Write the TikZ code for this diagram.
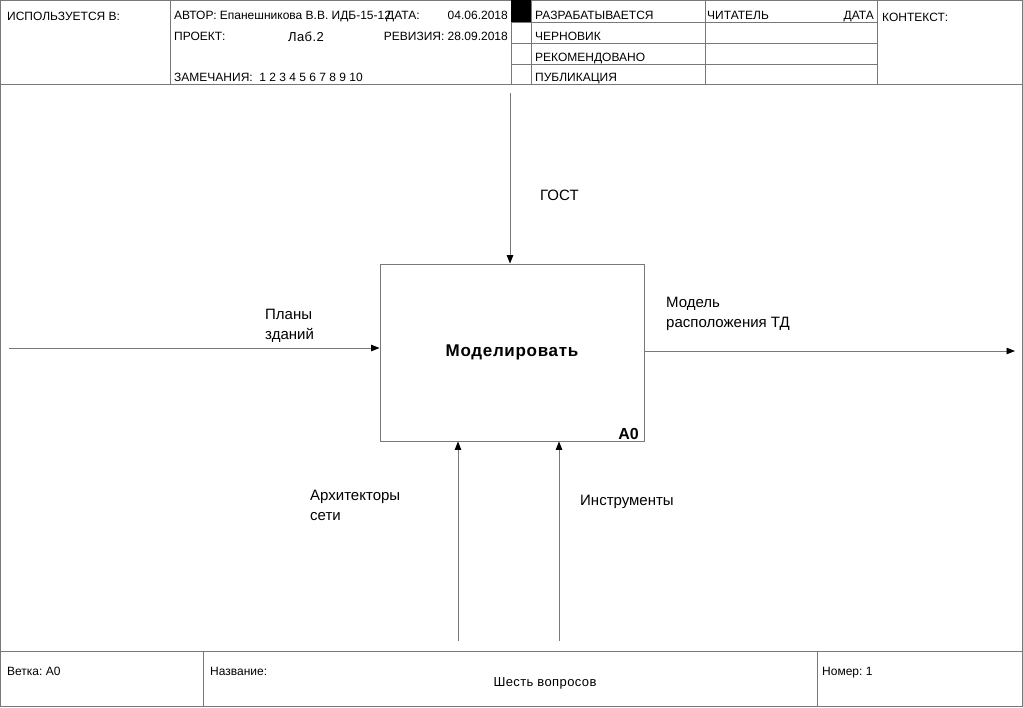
\documentclass[tikz,border=0pt]{standalone}
\usepackage{fontspec}
\setmainfont{Liberation Sans}
\usepackage{tikz}
\usetikzlibrary{arrows.meta,positioning,calc}
\definecolor{framegray}{RGB}{120,120,120}
\definecolor{textblack}{RGB}{0,0,0}
\tikzset{
  frame/.style={draw=framegray, line width=0.9pt},
  hdrtext/.style={anchor=base west, inner sep=0, font=\fontsize{12}{14}\selectfont, text=textblack},
  foottext/.style={anchor=base west, inner sep=0, font=\fontsize{12}{14}\selectfont, text=textblack},
  lbl/.style={anchor=north west, inner sep=0, align=left, font=\fontsize{15}{20}\selectfont, text=textblack},
  funcbox/.style={draw=framegray, line width=0.9pt, minimum width=264pt, minimum height=177pt,
    inner sep=0, font=\fontsize{17}{20}\selectfont\bfseries\addfontfeatures{LetterSpace=4}},
  flow/.style={draw=framegray, line width=0.9pt, -{Triangle[length=8.5pt, width=6.5pt, color=black]}}
}
\begin{document}
\begin{tikzpicture}[x=1pt, y=-1pt]
\useasboundingbox (0,0) rectangle (1023,707);
% frame and title block
\draw[frame] (0.5,0.5) rectangle (1022.5,706.5);
\draw[frame] (0,84) -- (1023,84);
\draw[frame] (170,0) -- (170,84);
\draw[frame] (511,0) -- (511,84);
\draw[frame] (531,0) -- (531,84);
\draw[frame] (705,0) -- (705,84);
\draw[frame] (877,0) -- (877,84);
\foreach \yrow in {22,43,64}
  \draw[frame] (511,\yrow) -- (877,\yrow);
\fill[black] (511,0) rectangle (531,22);
\draw[frame] (0,651) -- (1023,651);
\draw[frame] (203,651) -- (203,707);
\draw[frame] (817,651) -- (817,707);

\node[hdrtext] (usedat) at (7,20) {ИСПОЛЬЗУЕТСЯ В:};
\node[hdrtext] (author) at (174,19) {АВТОР: Епанешникова В.В. ИДБ-15-12};
\node[hdrtext] (datelbl) at (386,19) {ДАТА:};
\node[hdrtext, anchor=base east] (dateval) at (508,19) {04.06.2018};
\node[hdrtext] (project) at (174,40) {ПРОЕКТ:};
\node[hdrtext, font=\fontsize{13}{15}\selectfont\addfontfeatures{LetterSpace=3}] (projval) at (288,41) {Лаб.2};
\node[hdrtext, anchor=base east] (revision) at (508,40) {РЕВИЗИЯ: 28.09.2018};
\node[hdrtext] (notes) at (174,81) {ЗАМЕЧАНИЯ:\ \ 1 2 3 4 5 6 7 8 9 10};
\node[hdrtext] (working) at (535,19) {РАЗРАБАТЫВАЕТСЯ};
\node[hdrtext] (draft) at (535,40) {ЧЕРНОВИК};
\node[hdrtext] (recomm) at (535,61) {РЕКОМЕНДОВАНО};
\node[hdrtext] (publ) at (535,81) {ПУБЛИКАЦИЯ};
\node[hdrtext] (reader) at (707,19) {ЧИТАТЕЛЬ};
\node[hdrtext, anchor=base east] (rdate) at (874,19) {ДАТА};
\node[hdrtext] (context) at (882,21) {КОНТЕКСТ:};

\node[foottext] (node) at (7,675) {Ветка:\ А0};
\node[foottext] (title) at (210,675) {Название:};
\node[foottext, anchor=base, font=\fontsize{13}{15}\selectfont\addfontfeatures{LetterSpace=3}] (titleval) at (545,686) {Шесть вопросов};
\node[foottext] (number) at (822,675) {Номер:\ 1};

% function block
\node[funcbox] (a0) at (512,352.5) {Моделировать};
\node[anchor=base east, inner sep=0, font=\fontsize{16}{18}\selectfont\bfseries] (a0num) at (639,439) {A0};

\coordinate (gostsrc) at (510,93);
\coordinate (plansrc) at (9,348);
\coordinate (outsink) at (1015,351);
\coordinate (archsrc) at (458,641);
\coordinate (toolsrc) at (559,641);

\draw[flow] (gostsrc) -- (gostsrc |- a0.north);
\draw[flow] (plansrc) -- (plansrc -| a0.west);
\draw[flow] (a0.east |- outsink) -- (outsink);
\draw[flow] (archsrc) -- (archsrc |- a0.south);
\draw[flow] (toolsrc) -- (toolsrc |- a0.south);

\node[lbl, anchor=base west] (gost) at (540,200) {ГОСТ};
\node[lbl] (plans) at (265,309) {Планы\\зданий};
\node[lbl] (model) at (666,297) {Модель\\расположения ТД};
\node[lbl] (arch) at (310,490) {Архитекторы\\сети};
\node[lbl, anchor=base west] (tools) at (580,505) {Инструменты};
\end{tikzpicture}
\end{document}
